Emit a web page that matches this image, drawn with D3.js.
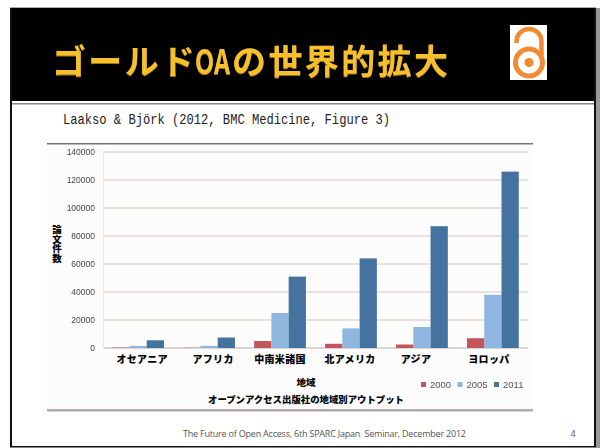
<!DOCTYPE html>
<html>
<head>
<meta charset="utf-8">
<script src="https://cdnjs.cloudflare.com/ajax/libs/d3/7.8.5/d3.min.js"></script>
<style>
  html, body { margin: 0; padding: 0; background: #fff; overflow: hidden; }
  svg { display: block; }
</style>
</head>
<body>
<svg width="600" height="448"></svg>
<script>
// Chart data
let regions = ["オセアニア", "アフリカ", "中南米諸国", "北アメリカ", "アジア", "ヨロッパ"];
let years = ["2000", "2005", "2011"];
let values2000 = [300, 200, 5000, 3000, 2500, 7000];
let values2005 = [1500, 1500, 25000, 14000, 15000, 38000];
let values2011 = [5500, 7500, 51000, 64000, 87000, 126000];
let yTicks = [0, 20000, 40000, 60000, 80000, 100000, 120000, 140000];
let yearColors = ["#c4565a", "#8fb6de", "#44739f"];

let jpFont = "'Noto Sans CJK JP', sans-serif";
let svg = d3.select("svg");

// Slightly soft look of the scanned chart
svg.append("defs").append("filter")
  .attr("id", "soft")
  .attr("x", "-5%").attr("y", "-5%").attr("width", "110%").attr("height", "110%")
  .append("feGaussianBlur")
  .attr("stdDeviation", 0.55);

// Slide frame
svg.append("rect").attr("x", 596).attr("y", 8).attr("width", 4).attr("height", 440).attr("fill", "#999");
svg.append("rect").attr("x", 10).attr("y", 7).attr("width", 586).attr("height", 1).attr("fill", "#aaa");
svg.append("rect").attr("x", 10).attr("y", 8).attr("width", 586).attr("height", 93).attr("fill", "#000");
svg.append("rect").attr("x", 10).attr("y", 8).attr("width", 2).attr("height", 439).attr("fill", "#111");
svg.append("rect").attr("x", 594).attr("y", 8).attr("width", 2).attr("height", 439).attr("fill", "#111");
svg.append("rect").attr("x", 10).attr("y", 446).attr("width", 586).attr("height", 1.5).attr("fill", "#111");
svg.append("rect").attr("x", 12).attr("y", 103).attr("width", 582).attr("height", 1.5).attr("fill", "#888");

// Slide title, OA is squeezed to half width like the original font
function titleText(str, xPos) {
  return svg.append("text")
    .attr("x", xPos)
    .attr("y", 74)
    .attr("font-family", jpFont)
    .attr("font-size", 34)
    .attr("font-weight", 700)
    .attr("fill", "#f6c02c")
    .style("filter", "drop-shadow(0 1px 0 #9a7414)")
    .text(str);
}
titleText("ゴールド", 52).attr("textLength", 143);
titleText("の世界的拡大", 232).attr("textLength", 216);
let oa = titleText("OA", 0);
let oaScale = 35 / oa.node().getComputedTextLength();
oa.attr("y", 0).attr("transform", "translate(195,74) scale(" + oaScale + ",1)");

// Open access logo
let logo = svg.append("g");
logo.append("rect").attr("x", 510).attr("y", 25).attr("width", 37).attr("height", 55).attr("fill", "#fff");
logo.append("circle").attr("cx", 529).attr("cy", 62.5).attr("r", 13.5)
  .attr("fill", "none").attr("stroke", "#f18a33").attr("stroke-width", 5);
logo.append("circle").attr("cx", 529).attr("cy", 62.5).attr("r", 4.5).attr("fill", "#f18a33");
logo.append("path").attr("d", "M516.5 43 V41.5 A12.5 12.5 0 0 1 541.5 41.5 V56")
  .attr("fill", "none").attr("stroke", "#f18a33").attr("stroke-width", 4.5);

// Citation line
svg.append("text")
  .attr("x", 63)
  .attr("y", 124)
  .attr("font-family", "'Liberation Mono', monospace")
  .attr("font-size", 14)
  .attr("fill", "#222")
  .attr("textLength", 327)
  .attr("lengthAdjust", "spacingAndGlyphs")
  .text("Laakso & Björk (2012, BMC Medicine, Figure 3)");

// Chart picture area
let chart = svg.append("g").attr("filter", "url(#soft)");
chart.append("rect").attr("x", 47).attr("y", 143).attr("width", 486).attr("height", 268).attr("fill", "#fcfcfc");
chart.append("rect").attr("x", 47).attr("y", 143).attr("width", 486).attr("height", 1.5).attr("fill", "#77726f");
chart.append("rect").attr("x", 47).attr("y", 409).attr("width", 486).attr("height", 2.5).attr("fill", "#b5abab");

let margin = { top: 152, left: 103, bottom: 348, right: 528 };

let x = d3.scaleBand().domain(regions).range([margin.left, margin.right]).paddingInner(0.27).paddingOuter(0.13);
let xYear = d3.scaleBand().domain(years).range([0, x.bandwidth()]);
let y = d3.scaleLinear().domain([0, 140000]).range([margin.bottom, margin.top]);

// Grid lines
chart.append("g")
  .selectAll("line")
  .data(yTicks)
  .enter()
  .append("line")
  .attr("x1", margin.left)
  .attr("x2", margin.right)
  .attr("y1", d => y(d))
  .attr("y2", d => y(d))
  .attr("stroke", d => d === 0 ? "#cfcaca" : "#e4d9d5")
  .attr("stroke-width", 1.5);

// Y axis
let yAxis = chart.append("g")
  .attr("transform", "translate(" + margin.left + ",0)")
  .call(d3.axisLeft(y).tickValues(yTicks).tickSize(0).tickPadding(8).tickFormat(d3.format("d")));
yAxis.select(".domain").attr("stroke", "#ece8e6");
yAxis.selectAll("text")
  .attr("font-family", "'Liberation Sans', sans-serif")
  .attr("font-size", 8.5)
  .attr("fill", "#444");

// Bars
let series = [values2000, values2005, values2011];
series.forEach(function(vals, i) {
  chart.append("g")
    .selectAll("rect")
    .data(vals)
    .enter()
    .append("rect")
    .attr("x", (d, j) => x(regions[j]) + xYear(years[i]))
    .attr("y", d => y(d))
    .attr("width", xYear.bandwidth())
    .attr("height", d => y(0) - y(d))
    .attr("fill", yearColors[i]);
});

// X axis labels, the originals sit a little off their bars
let labelNudge = [4, 4, 0, -1, -6, -4];
let xAxis = svg.append("g")
  .attr("transform", "translate(0," + margin.bottom + ")")
  .call(d3.axisBottom(x).tickSize(0).tickPadding(8));
xAxis.select(".domain").remove();
xAxis.selectAll("text")
  .attr("dx", (d, i) => labelNudge[i])
  .attr("font-family", jpFont)
  .attr("font-size", 10)
  .attr("font-weight", 900)
  .attr("letter-spacing", 0.3)
  .attr("fill", "#000");

// Axis titles
svg.append("text")
  .attr("x", 306)
  .attr("y", 386)
  .attr("text-anchor", "middle")
  .attr("font-family", jpFont)
  .attr("font-size", 9.5)
  .attr("font-weight", 900)
  .text("地域");

svg.append("text")
  .attr("x", 57)
  .attr("y", 225)
  .attr("font-family", jpFont)
  .attr("font-size", 9.5)
  .attr("font-weight", 900)
  .style("writing-mode", "vertical-rl")
  .style("text-orientation", "upright")
  .text("論文件数");

svg.append("text")
  .attr("x", 208)
  .attr("y", 403)
  .attr("font-family", jpFont)
  .attr("font-size", 9.4)
  .attr("font-weight", 900)
  .attr("textLength", 196)
  .text("オープンアクセス出版社の地域別アウトプット");

// Legend
let legend = chart.selectAll(".legend")
  .data(years)
  .enter()
  .append("g")
  .attr("class", "legend")
  .attr("transform", (d, i) => "translate(" + (421 + i * 36.5) + ",385)");
legend.append("rect")
  .attr("x", 0).attr("y", -3)
  .attr("width", 5).attr("height", 5)
  .attr("fill", (d, i) => yearColors[i]);
legend.append("text")
  .attr("x", 9).attr("y", 3)
  .attr("font-family", "'Liberation Sans', sans-serif")
  .attr("font-size", 9.5)
  .attr("fill", "#555")
  .text(d => d);

// Footer
svg.append("text")
  .attr("x", 183)
  .attr("y", 437)
  .attr("font-family", "'Open Sans', sans-serif")
  .attr("font-size", 9)
  .attr("fill", "#555")
  .attr("textLength", 283)
  .attr("xml:space", "preserve")
  .text("The Future of Open Access, 6th SPARC Japan  Seminar, December 2012");

svg.append("text")
  .attr("x", 573)
  .attr("y", 437)
  .attr("text-anchor", "middle")
  .attr("font-family", "'Open Sans', sans-serif")
  .attr("font-size", 9)
  .attr("fill", "#555")
  .text("4");
</script>
</body>
</html>
